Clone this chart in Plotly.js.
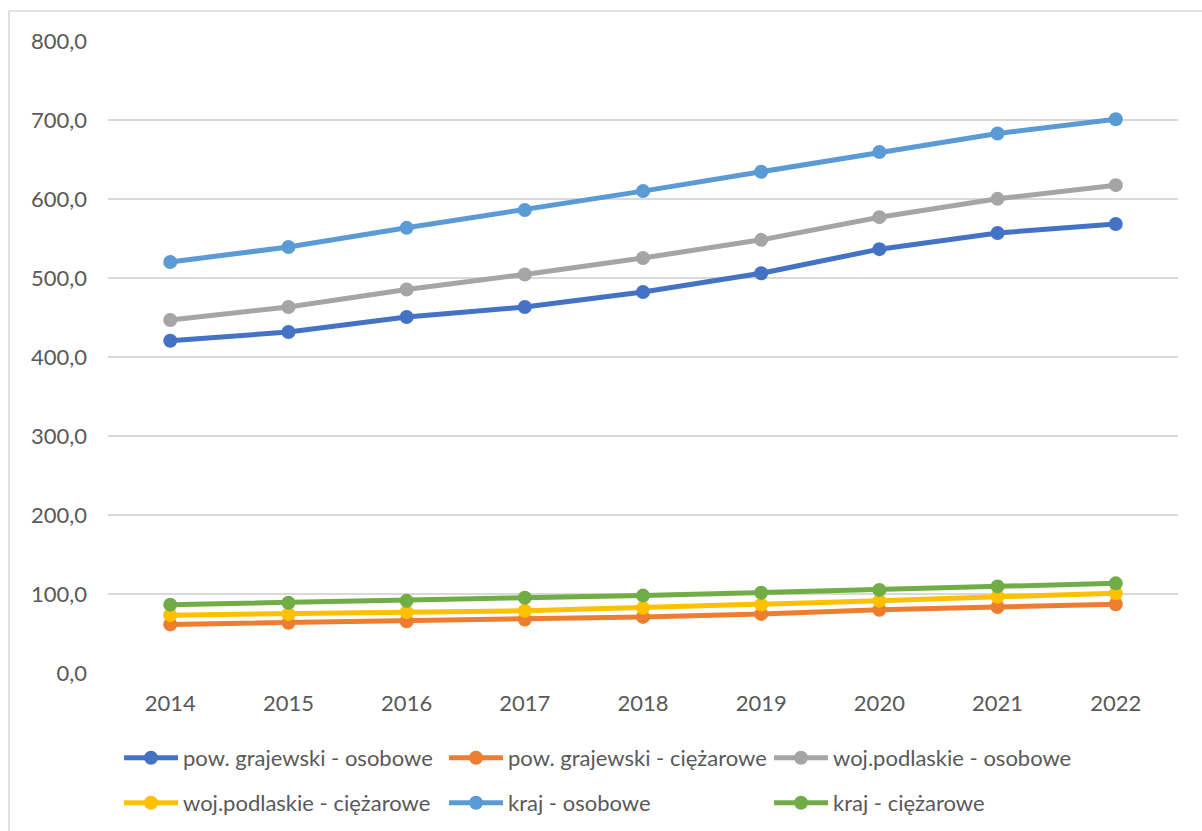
<!DOCTYPE html>
<html>
<head>
<meta charset="utf-8">
<script src="https://cdn.plot.ly/plotly-3.0.1.min.js"></script>
<style>
html,body{margin:0;padding:0;background:#fff;}
#chart{width:1202px;height:831px;}
</style>
</head>
<body>
<div id="chart"></div>
<script>
const years = ["2014","2015","2016","2017","2018","2019","2020","2021","2022"];
const seriesNames = [
  "pow. grajewski - osobowe",
  "pow. grajewski - ciężarowe",
  "woj.podlaskie - osobowe",
  "woj.podlaskie - ciężarowe",
  "kraj - osobowe",
  "kraj - ciężarowe"
];
const powOsobowe   = [420.5, 431.6, 450.6, 463.3, 482.3, 506.0, 536.5, 557.0, 568.4];
const powCiezarowe = [61.5, 63.5, 65.6, 67.8, 71.0, 74.8, 80.0, 83.5, 87.0];
const wojOsobowe   = [446.8, 463.3, 485.5, 504.5, 525.3, 548.3, 577.0, 600.2, 617.5];
const wojCiezarowe = [73.2, 74.5, 77.0, 78.8, 82.5, 86.6, 91.3, 96.5, 100.8];
const krajOsobowe  = [520.3, 539.2, 563.5, 586.0, 610.0, 634.5, 659.5, 683.0, 701.0];
const krajCiezarowe= [86.5, 89.0, 91.3, 95.2, 98.0, 101.7, 105.2, 109.6, 113.5];
const colors = ["#4472C4","#ED7D31","#A5A5A5","#FFC000","#5B9BD5","#70AD47"];
const yTicks = [0,100,200,300,400,500,600,700,800];

const allValues = [powOsobowe, powCiezarowe, wojOsobowe, wojCiezarowe, krajOsobowe, krajCiezarowe];
const FONT = "Lato, 'Open Sans', sans-serif";
const FS = 22;

const traces = allValues.map((vals, i) => ({
  type: "scatter",
  mode: "lines+markers",
  x: years,
  y: vals,
  name: seriesNames[i],
  legend: i < 3 ? "legend" : "legend2",
  line: {color: colors[i], width: 5},
  marker: {color: colors[i], size: 14}
}));

const legendCommon = {
  orientation: "h",
  xanchor: "left",
  yanchor: "middle",
  x: 0.0103,
  font: {family: FONT, size: FS, color: "#595959"},
  entrywidth: 256,
  entrywidthmode: "pixels",
  bgcolor: "rgba(0,0,0,0)",
  itemwidth: 54
};

const layout = {
  width: 1202,
  height: 831,
  margin: {l: 108, r: 24, t: 41, b: 158, autoexpand: false},
  paper_bgcolor: "#ffffff",
  plot_bgcolor: "#ffffff",
  font: {family: FONT, size: FS, color: "#595959"},
  separators: ", ",
  showlegend: true,
  xaxis: {
    type: "category",
    showgrid: false,
    zeroline: false,
    showline: false,
    ticks: "",
    ticklabelstandoff: 15,
    tickfont: {family: FONT, size: FS, color: "#595959"}
  },
  yaxis: {
    range: [0, 800],
    tickvals: yTicks,
    tickformat: ".1f",
    showgrid: true,
    gridcolor: "#D9D9D9",
    gridwidth: 1.5,
    zeroline: false,
    showline: false,
    ticks: "",
    ticklabelstandoff: 20,
    tickfont: {family: FONT, size: FS, color: "#595959"}
  },
  legend: Object.assign({}, legendCommon, {y: -0.1345}),
  legend2: Object.assign({}, legendCommon, {y: -0.2057}),
  shapes: [{
    type: "rect",
    xref: "paper", yref: "paper",
    x0: -0.0925, x1: 1.04, y0: -0.27, y1: 1.0475,
    line: {color: "#D9D9D9", width: 1.5},
    fillcolor: "rgba(0,0,0,0)",
    layer: "below"
  }]
};

Plotly.newPlot("chart", traces, layout, {displayModeBar: false, staticPlot: true});
</script>
</body>
</html>
